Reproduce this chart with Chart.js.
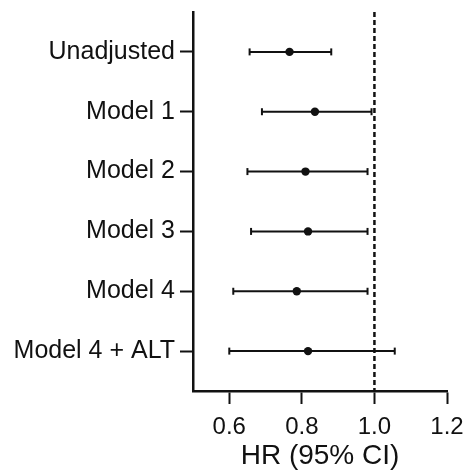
<!DOCTYPE html>
<html>
<head>
<meta charset="utf-8">
<script src="https://cdn.jsdelivr.net/npm/chart.js@4/dist/chart.umd.min.js"></script>
<style>
html,body{margin:0;padding:0;background:#fff;}
#wrap{width:465px;height:475px;}
</style>
</head>
<body>
<div id="wrap"><canvas id="c" width="465" height="475"></canvas></div>
<script>
const categories = ['Unadjusted', 'Model 1', 'Model 2', 'Model 3', 'Model 4', 'Model 4 + ALT'];
const hr    = [0.766, 0.836, 0.810, 0.817, 0.786, 0.817];
const lower = [0.656, 0.690, 0.650, 0.660, 0.611, 0.600];
const upper = [0.881, 0.992, 0.981, 0.981, 0.981, 1.056];
const xTicks = [0.6, 0.8, 1.0, 1.2];
const refValue = 1.0;
const xTitle = 'HR (95% CI)';

const INK = '#111111';
const FONT = "'Liberation Sans', Arial, sans-serif";
const yMin = 1 - 2/3, yMax = categories.length + 2/3;

const datasets = [];
// reference line
datasets.push({
  type: 'line',
  data: [{x: refValue, y: yMin}, {x: refValue, y: yMax}],
  borderColor: INK, borderWidth: 2.5, borderDash: [5, 3],
  pointRadius: 0, fill: false, clip: false, order: 3
});
// CI whiskers
categories.forEach((c, i) => {
  datasets.push({
    type: 'line',
    data: [{x: lower[i], y: i + 1}, {x: upper[i], y: i + 1}],
    borderColor: INK, borderWidth: 2,
    pointStyle: 'line', pointRotation: 90, pointRadius: 3.5,
    pointBorderWidth: 2, pointBorderColor: INK, pointBackgroundColor: INK,
    fill: false, order: 2
  });
});
// point estimates
datasets.push({
  type: 'scatter',
  data: hr.map((v, i) => ({x: v, y: i + 1})),
  pointRadius: 4.2, pointBackgroundColor: INK, pointBorderColor: INK, pointBorderWidth: 0,
  order: 1
});

new Chart(document.getElementById('c'), {
  type: 'scatter',
  data: { datasets },
  options: {
    responsive: false, animation: false, devicePixelRatio: 1,
    layout: { padding: { top: 12, right: 18, left: 0, bottom: 0 } },
    plugins: { legend: { display: false }, tooltip: { enabled: false } },
    scales: {
      x: {
        type: 'linear', min: 0.5, max: 1.2,
        afterBuildTicks: s => { s.ticks = xTicks.map(v => ({value: v})); },
        afterFit: s => { s.height = 84; s.paddingLeft = 0; s.paddingRight = 0; },
        grid: { display: true, drawOnChartArea: false, drawTicks: true, tickLength: 13, tickWidth: 2, color: INK },
        border: { display: true, color: INK, width: 2.5 },
        ticks: { color: INK, font: { family: FONT, size: 24 }, padding: 9, maxRotation: 0,
                 callback: v => Number(v).toFixed(1) },
        title: { display: true, text: xTitle, color: INK, font: { family: FONT, size: 28 }, padding: { top: 0, bottom: 2 } }
      },
      y: {
        type: 'linear', reverse: true, min: yMin, max: yMax,
        afterBuildTicks: s => { s.ticks = categories.map((c, i) => ({value: i + 1})); },
        afterFit: s => { s.width = 193; s.paddingTop = 0; s.paddingBottom = 0; },
        grid: { display: true, drawOnChartArea: false, drawTicks: true, tickLength: 13, tickWidth: 2, color: INK },
        border: { display: true, color: INK, width: 2.5 },
        ticks: { color: INK, font: { family: FONT, size: 25 }, padding: 5,
                 callback: v => categories[Math.round(v) - 1] }
      }
    }
  }
});
</script>
</body>
</html>
